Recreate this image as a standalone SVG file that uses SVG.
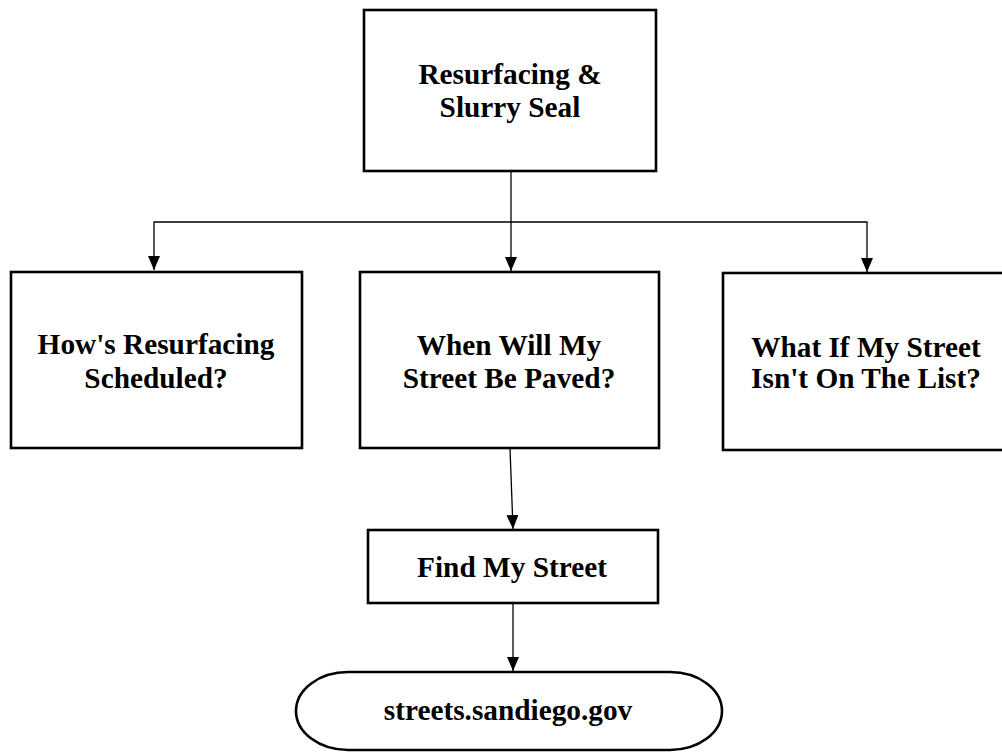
<svg xmlns="http://www.w3.org/2000/svg" width="1002" height="752" viewBox="0 0 1002 752">
<defs>
<style>
.box{fill:#fff;stroke:#000;stroke-width:2.6}
.t{font-family:"Liberation Serif","Times New Roman",serif;font-weight:bold;font-size:29.3px;fill:#000;text-anchor:middle}
.c{fill:none;stroke:#000;stroke-width:1.3}
</style>
<marker id="ah" viewBox="0 0 14 12" refX="14" refY="6" markerWidth="14" markerHeight="12" markerUnits="userSpaceOnUse" orient="auto">
<path d="M0,0 L14,6 L0,12 Z" fill="#000"/>
</marker>
</defs>
<rect width="1002" height="752" fill="#fff"/>
<g id="connectors">
<line class="c" x1="511" y1="171" x2="511" y2="271" marker-end="url(#ah)"/>
<polyline class="c" points="511,222 154,222 154,270" marker-end="url(#ah)"/>
<polyline class="c" points="511,222 867,222 867,272" marker-end="url(#ah)"/>
<line class="c" x1="510" y1="448" x2="513" y2="529" marker-end="url(#ah)"/>
<line class="c" x1="513" y1="603" x2="513" y2="671" marker-end="url(#ah)"/>
</g>
<g id="n-top">
<rect class="box" x="364" y="10" width="292" height="161"/>
<text class="t" x="510" y="84">Resurfacing &amp;</text>
<text class="t" x="510" y="117">Slurry Seal</text>
</g>
<g id="n-left">
<rect class="box" x="11" y="272" width="291" height="176"/>
<text class="t" x="156" y="354">How's Resurfacing</text>
<text class="t" x="156" y="388">Scheduled?</text>
</g>
<g id="n-mid">
<rect class="box" x="360" y="272" width="299" height="176"/>
<text class="t" x="509" y="355">When Will My</text>
<text class="t" x="509" y="388">Street Be Paved?</text>
</g>
<g id="n-right">
<rect class="box" x="723" y="273" width="286" height="177"/>
<text class="t" x="866" y="357">What If My Street</text>
<text class="t" x="866" y="388">Isn't On The List?</text>
</g>
<g id="n-find">
<rect class="box" x="368" y="530" width="290" height="73"/>
<text class="t" x="512" y="577">Find My Street</text>
</g>
<g id="n-url">
<rect class="box" x="296" y="672" width="426" height="78" rx="52" ry="39"/>
<text class="t" x="508" y="720">streets.sandiego.gov</text>
</g>
</svg>
